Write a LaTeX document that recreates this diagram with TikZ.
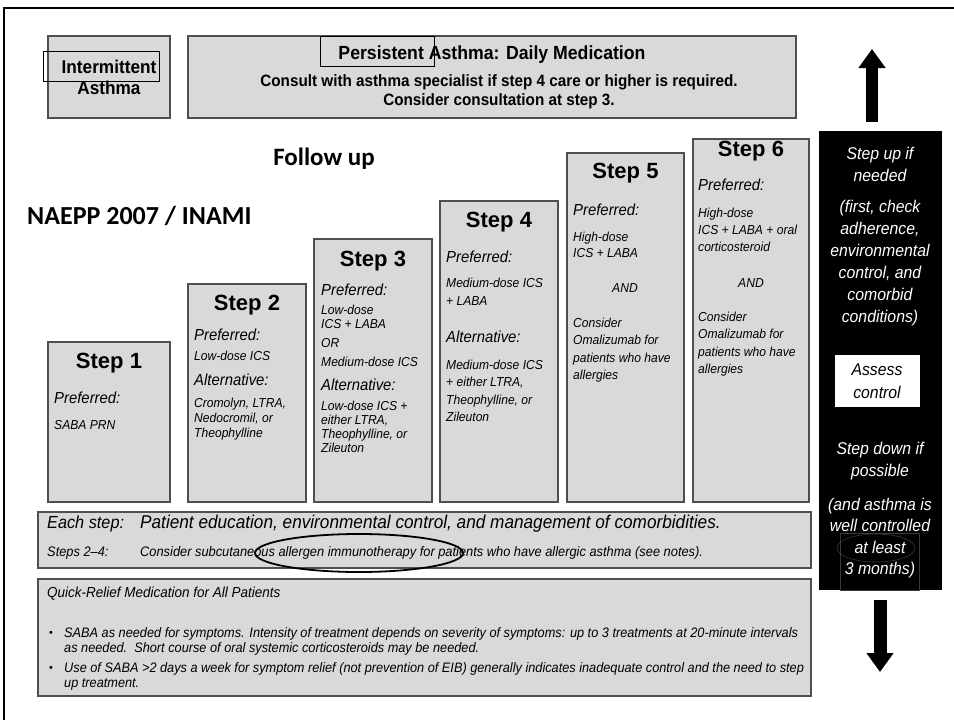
\documentclass[tikz,border=0pt]{standalone}
\usepackage{fontspec}
\setmainfont{Liberation Sans}
\newfontfamily\narrowsf[FakeStretch=0.93,Ligatures=TeX]{Liberation Sans}
\newfontfamily\calsf{Carlito}
\usetikzlibrary{arrows.meta,positioning,shapes.geometric}
\definecolor{boxfill}{HTML}{D9D9D9}
\definecolor{boxline}{HTML}{4F4F4F}
\tikzset{
  panel/.style={draw=boxline,fill=boxfill,line width=1.4pt},
  markbox/.style={draw=black,line width=0.9pt},
  steptitle/.style={font=\fontsize{22}{24}\selectfont\bfseries},
  stephead/.style={font=\narrowsf\fontsize{16}{18}\selectfont\itshape,anchor=west,inner sep=0pt},
  stepbody/.style={font=\narrowsf\fontsize{13}{#1}\selectfont\itshape,align=left,anchor=north west,inner sep=0pt},
  stepbody/.default=14.5,
  ctrltext/.style={font=\narrowsf\fontsize{17}{22}\selectfont\itshape,text=white,align=center},
  bottomtext/.style={font=\narrowsf\fontsize{#1}{15.5}\selectfont\itshape,anchor=west,inner sep=0pt},
  bigarrow/.style={line width=12pt,-{Triangle[width=26pt,length=19pt]}},
}
\begin{document}
\begin{tikzpicture}[x=1pt,y=-1pt]
  \useasboundingbox (0,0) rectangle (954,720);
  % slide frame
  \draw[line width=2pt] (954,8) -- (4,8) -- (4,720);

  % Header
  \draw[panel] (48,36) rectangle (170,118);
  \node[font=\narrowsf\fontsize{18.5}{21}\selectfont\bfseries,align=center] (inter) at (109,77) {Intermittent\\Asthma};
  \draw[markbox] (43,51) rectangle (159,81);
  \draw[panel] (188,36) rectangle (796,118);
  \node[font=\narrowsf\fontsize{19}{21}\selectfont\bfseries] (pers) at (492,55) {Persistent Asthma: Daily Medication};
  \node[font=\narrowsf\fontsize{16.4}{19}\selectfont\bfseries,align=center] (consult) at (499,92) {Consult with asthma specialist if step 4 care or higher is required.\\Consider consultation at step 3.};
  \draw[markbox] (320,36) rectangle (434,66);

  \node[font=\calsf\fontsize{25}{27}\selectfont\bfseries] (follow) at (324,159) {Follow up};
  \node[font=\calsf\fontsize{26}{28}\selectfont\bfseries,anchor=west,inner sep=0pt] (naepp) at (27,216) {NAEPP 2007 / INAMI};

  % Steps
  \foreach \n/\xl/\xr/\yt/\yh in {1/48/170/342/363, 2/188/306/284/305, 3/314/432/239/261,
                                 4/440/558/201/222, 5/567/684/153/173, 6/693/809/139/151}{
    \draw[panel] (\xl,\yt) rectangle (\xr,502);
    \node[steptitle] (step\n) at ({(\xl+\xr)/2},\yh) {Step \n};
  }
  % Step 1
  \node[stephead] (p1) at (54,398) {Preferred:};
  \node[stepbody] (p1b) at (54,420) {SABA PRN};
  % Step 2
  \node[stephead] (p2) at (194,335) {Preferred:};
  \node[stepbody] (p2b) at (194,351) {Low-dose ICS};
  \node[stephead] (a2) at (194,380) {Alternative:};
  \node[stepbody=15] (a2b) at (194,398) {Cromolyn, LTRA,\\Nedocromil, or\\Theophylline};
  % Step 3
  \node[stephead] (p3) at (321,290) {Preferred:};
  \node[stepbody=14] (p3b) at (321,305) {Low-dose\\ICS + LABA};
  \node[stepbody] (or3) at (321,338) {OR};
  \node[stepbody] (m3) at (321,357) {Medium-dose ICS};
  \node[stephead] (a3) at (321,385) {Alternative:};
  \node[stepbody=14] (a3b) at (321,401) {Low-dose ICS +\\either LTRA,\\Theophylline, or\\Zileuton};
  % Step 4
  \node[stephead] (p4) at (446,257) {Preferred:};
  \node[stepbody=18] (p4b) at (446,278) {Medium-dose ICS\\+ LABA};
  \node[stephead] (a4) at (446,337) {Alternative:};
  \node[stepbody=17.3] (a4b) at (446,360) {Medium-dose ICS\\+ either LTRA,\\Theophylline, or\\Zileuton};
  % Step 5
  \node[stephead] (p5) at (573,210) {Preferred:};
  \node[stepbody=16] (p5b) at (573,232) {High-dose\\ICS + LABA};
  \node[font=\narrowsf\fontsize{13}{15}\selectfont\itshape] (and5) at (625,288) {AND};
  \node[stepbody=17.3] (c5) at (573,318) {Consider\\Omalizumab for\\patients who have\\allergies};
  % Step 6
  \node[stephead] (p6) at (698,185) {Preferred:};
  \node[stepbody=17] (p6b) at (698,208) {High-dose\\ICS + LABA + oral\\corticosteroid};
  \node[font=\narrowsf\fontsize{13}{15}\selectfont\itshape] (and6) at (751,283) {AND};
  \node[stepbody=17.3] (c6) at (698,312) {Consider\\Omalizumab for\\patients who have\\allergies};

  % Control column
  \node[fill=black,draw=black,minimum width=122pt,minimum height=458pt,inner sep=0pt] (ctrl) at (880,360) {};
  \node[ctrltext] (up) at (880,164) {Step up if\\needed};
  \node[ctrltext] (first) at (880,263) {(first, check\\adherence,\\environmental\\control, and\\comorbid\\conditions)};
  \node[fill=white,draw=black,minimum width=86pt,minimum height=53pt,inner sep=0pt,
        font=\narrowsf\fontsize{17}{23}\selectfont\itshape,align=center] (assess) at (877,381) {Assess\\control};
  \node[ctrltext] (down) at (880,461) {Step down if\\possible};
  \node[ctrltext,font=\narrowsf\fontsize{17}{21.3}\selectfont\itshape] (well) at (880,538) {(and asthma is\\well controlled\\at least\\3 months)};
  \node[draw=gray!45!black,ellipse,line width=0.6pt,minimum width=78pt,minimum height=28pt] (least) at (876,548) {};
  \draw[gray!45!black,line width=0.6pt] (840,533) rectangle (919,590);
  \coordinate (upbase) at (872,122);
  \coordinate (uptip) at (872,49);
  \coordinate (dnbase) at (880,600);
  \coordinate (dntip) at (880,672);
  \draw[bigarrow] (upbase) -- (uptip);
  \draw[bigarrow,line width=13pt] (dnbase) -- (dntip);

  % Each step
  \draw[panel] (38,512) rectangle (811,568);
  \node[bottomtext=17.5] (each) at (47,524) {Each step:};
  \node[bottomtext=18.5] (eachb) at (140,524) {Patient education, environmental control, and management of comorbidities.};
  \node[bottomtext=13.8] (s24) at (47,553) {Steps 2–4:};
  \node[bottomtext=13.8] (s24b) at (140,553) {Consider subcutaneous allergen immunotherapy for patients who have allergic asthma (see notes).};
  \node[draw,ellipse,line width=1.8pt,minimum width=208pt,minimum height=38pt] (circ) at (359,553) {};

  % Quick relief
  \draw[panel] (38,579) rectangle (811,696);
  \node[bottomtext=14.5] (quick) at (47,594) {Quick-Relief Medication for All Patients};
  \node[font=\fontsize{11}{13}\selectfont] (bul1) at (51,634) {\textbullet};
  \node[font=\narrowsf\fontsize{13.7}{15.5}\selectfont\itshape,align=left,anchor=north west,inner sep=0pt] (q1) at (64,627)
    {SABA as needed for symptoms. Intensity of treatment depends on severity of symptoms: up to 3 treatments at 20-minute intervals\\
     as needed.\ \ Short course of oral systemic corticosteroids may be needed.};
  \node[font=\fontsize{11}{13}\selectfont] (bul2) at (51,669) {\textbullet};
  \node[font=\narrowsf\fontsize{13.7}{15.5}\selectfont\itshape,align=left,anchor=north west,inner sep=0pt] (q2) at (64,662)
    {Use of SABA >2 days a week for symptom relief (not prevention of EIB) generally indicates inadequate control and the need to step\\
     up treatment.};
\end{tikzpicture}
\end{document}
